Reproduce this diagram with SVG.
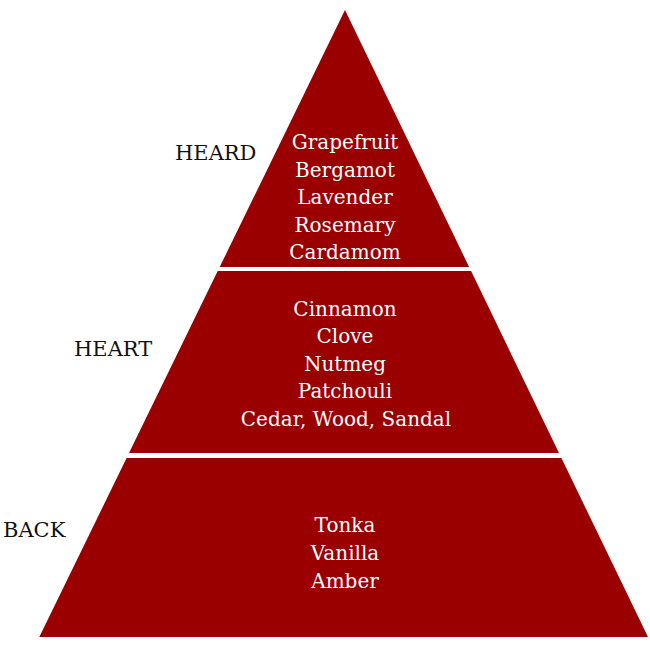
<svg xmlns="http://www.w3.org/2000/svg" width="650" height="650" viewBox="0 0 650 650">
<style>
.band{fill:#9b0000}
.in{font-family:"DejaVu Serif","Liberation Serif",serif;font-size:20px;fill:#ffffff;text-anchor:middle}
.lbl{font-family:"DejaVu Serif","Liberation Serif",serif;font-size:21px;fill:#111111}
</style>
<rect width="650" height="650" fill="#ffffff"/>
<g id="top">
<polygon class="band" points="345,10 469.1,267 219.7,267"/>
<text class="in" x="345" y="149">Grapefruit</text>
<text class="in" x="345" y="177">Bergamot</text>
<text class="in" x="345" y="204">Lavender</text>
<text class="in" x="345" y="232">Rosemary</text>
<text class="in" x="345" y="259">Cardamom</text>
</g>
<g id="middle">
<polygon class="band" points="217.7,271 471.1,271 559,453 129,453"/>
<text class="in" x="345" y="316">Cinnamon</text>
<text class="in" x="345" y="343">Clove</text>
<text class="in" x="345" y="371">Nutmeg</text>
<text class="in" x="345" y="398">Patchouli</text>
<text class="in" x="346" y="426">Cedar, Wood, Sandal</text>
</g>
<g id="bottom">
<polygon class="band" points="126.6,458 561.4,458 648,637 39.3,637"/>
<text class="in" x="345" y="532">Tonka</text>
<text class="in" x="345" y="560">Vanilla</text>
<text class="in" x="345" y="588">Amber</text>
</g>
<g id="labels">
<text class="lbl" x="175" y="160">HEARD</text>
<text class="lbl" x="74" y="356">HEART</text>
<text class="lbl" x="3" y="537">BACK</text>
</g>
</svg>
